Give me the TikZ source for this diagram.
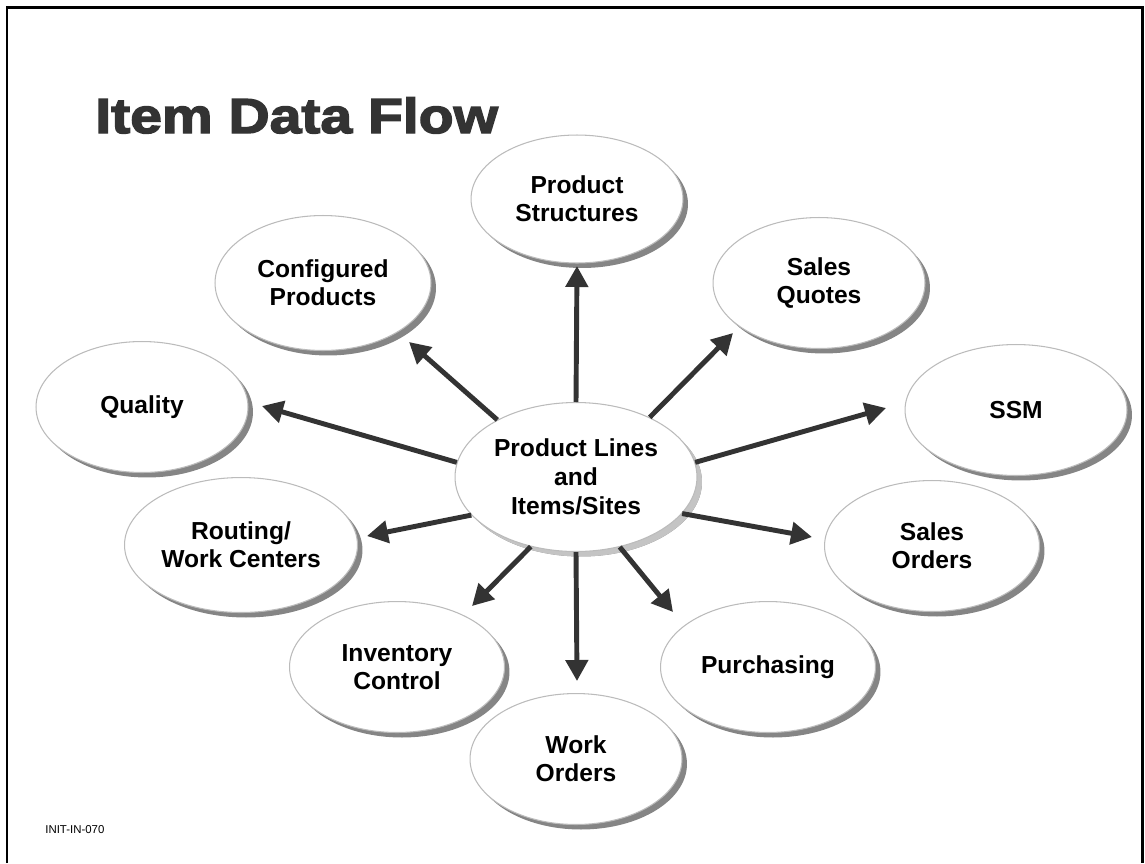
\documentclass[tikz,border=0pt]{standalone}
\usepackage{fontspec}
\setmainfont{Liberation Sans}
\newfontfamily\titlefont[FakeBold=3,FakeStretch=1.16]{Liberation Sans Bold}
\usetikzlibrary{shapes.geometric}
\usetikzlibrary{arrows.meta}
\usetikzlibrary{shadows}

\definecolor{darkgrey}{HTML}{333333}
\definecolor{rimgrey}{HTML}{BBBBBB}
\definecolor{shadegrey}{HTML}{858585}
\definecolor{hubshade}{HTML}{C4C4C4}

\tikzset{
    bubble/.style={ellipse, draw=rimgrey, line width=0.6pt, fill=white, align=center,
        inner sep=0pt, minimum width=4.24cm, minimum height=2.62cm,
        font=\fontsize{14}{16}\selectfont\bfseries,
        drop shadow={shadow xshift=0.1cm, shadow yshift=-0.1cm, fill=shadegrey, opacity=1}},
    hubbubble/.style={bubble, minimum width=4.84cm, minimum height=2.98cm,
        font=\fontsize{14}{16.5}\selectfont\bfseries,
        drop shadow={shadow xshift=0.1cm, shadow yshift=-0.1cm, fill=hubshade, opacity=1}},
    flow/.style={draw=darkgrey, line width=2.8pt, -{Triangle[length=0.42cm,width=0.44cm]}}
}

\begin{document}
\begin{tikzpicture}[x=0.02cm, y=-0.02cm]
        \useasboundingbox (0,0) rectangle (1145,863);

        % Frame and title
        \draw [line width=0.06cm] (7,863) -- (7,7) -- (1142,7) -- (1142,863);
        \node [anchor=base west, inner sep=0pt, text=darkgrey, font=\titlefont\fontsize{28}{30}\selectfont] (title) at (95,133) {Item Data Flow};
        \node [anchor=west, inner sep=0pt, font=\fontsize{6.5}{7}\selectfont] (code) at (45,830) {INIT-IN-070};

        % Centre
        \node [hubbubble] (hub) at (576,477) {Product Lines\\and\\Items/Sites};

        % Top half
        \node [bubble, minimum height=2.56cm] (prodstruct) at (577,199) {Product\\Structures};
        \node [bubble, minimum width=4.32cm, minimum height=2.7cm] (config) at (323,283) {Configured\\Products};
        \node [bubble] (quotes) at (819,283) {Sales\\Quotes};
        \node [bubble] (quality) at (142,407) {Quality};
        \node [bubble, minimum width=4.44cm] (ssm) at (1016,410) {SSM};

        % Bottom half
        \node [bubble, minimum width=4.66cm, minimum height=2.7cm] (routing) at (241,545) {Routing/\\Work Centers};
        \node [bubble, minimum width=4.3cm] (salesord) at (932,546) {Sales\\Orders};
        \node [bubble, minimum width=4.3cm] (invent) at (397,667) {Inventory\\Control};
        \node [bubble, minimum width=4.3cm] (purch) at (768,667) {Purchasing};
        \node [bubble] (workord) at (576,759) {Work\\Orders};

        % Arrow tips
        \coordinate (psTip) at (577,266);
        \coordinate (cpTip) at (409,342);
        \coordinate (sqTip) at (733,333);
        \coordinate (qlTip) at (262,406);
        \coordinate (ssmTip) at (886,408);
        \coordinate (rwTip) at (367,536);
        \coordinate (soTip) at (812,537);
        \coordinate (icTip) at (472,606);
        \coordinate (woTip) at (577,681);
        \coordinate (puTip) at (673,612);

        % Flows out of the centre
        \draw [flow] (hub.90) -- (psTip);
        \draw [flow] (hub.144) -- (cpTip);
        \draw [flow] (hub.39) -- (sqTip);
        \draw [flow] (hub.173) -- (qlTip);
        \draw [flow] (hub.7) -- (ssmTip);
        \draw [flow] (hub.200) -- (rwTip);
        \draw [flow] (hub.341) -- (soTip);
        \draw [flow] (hub.237) -- (icTip);
        \draw [flow] (hub.270) -- (woTip);
        \draw [flow] (hub.302) -- (puTip);
\end{tikzpicture}
\end{document}
